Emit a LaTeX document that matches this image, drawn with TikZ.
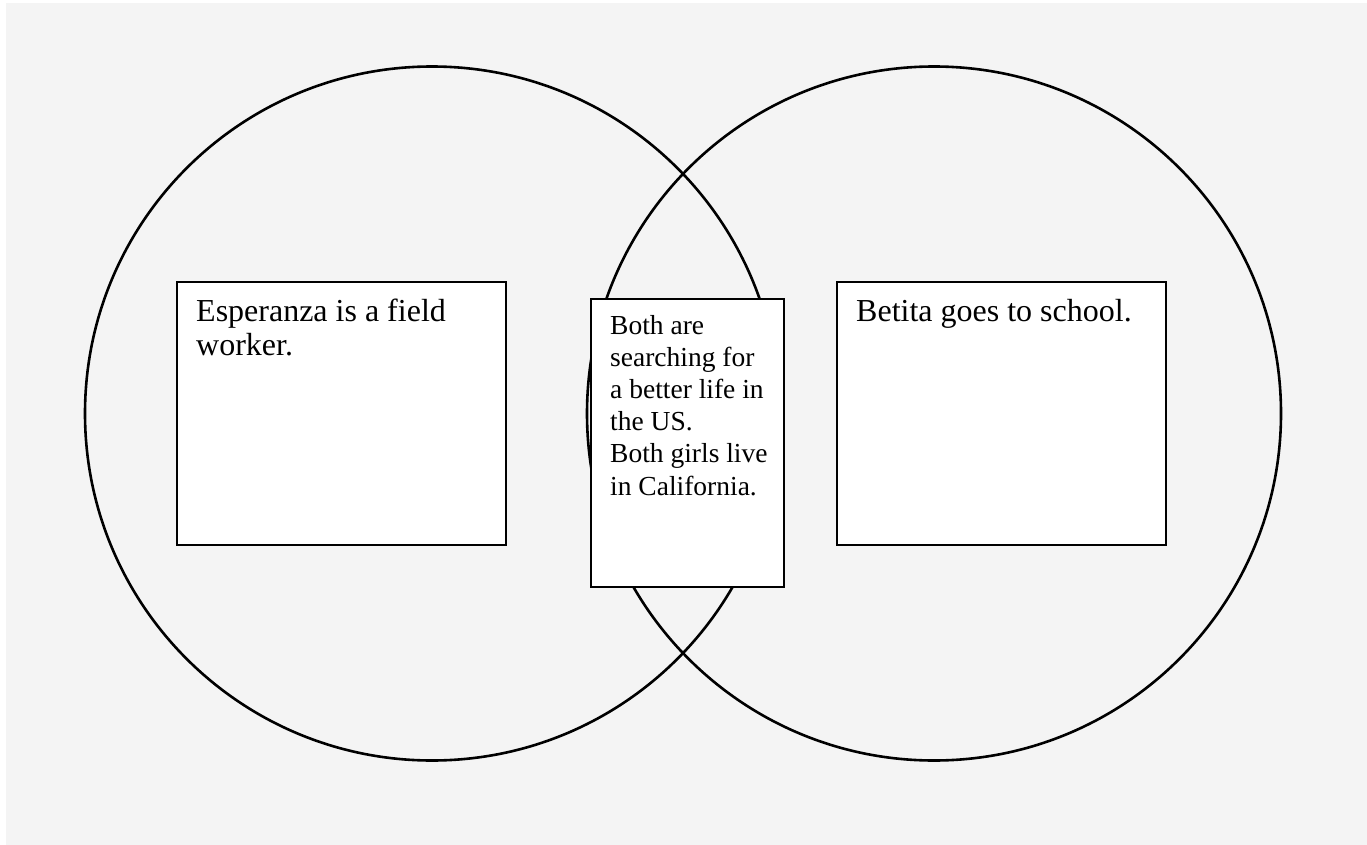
\documentclass[tikz,border=0pt]{standalone}
\usepackage{fontspec}
\setmainfont{Liberation Serif}
\definecolor{bggray}{HTML}{F4F4F4}
\tikzset{
  ring/.style={circle, draw=black, line width=2.6pt, minimum size=694pt, inner sep=0pt},
  card/.style={rectangle, draw=black, line width=1.8pt, fill=white, inner sep=0pt},
  bigtxt/.style={anchor=base west, inner sep=0pt, font=\fontsize{32}{34.5}\selectfont},
  smalltxt/.style={anchor=base west, inner sep=0pt, font=\fontsize{27.5}{32.2}\selectfont}
}
\begin{document}
\begin{tikzpicture}[x=1pt, y=-1pt]
\useasboundingbox (0,0) rectangle (1367,845);
\fill[white] (0,0) rectangle (1367,845);
\fill[bggray] (6,3) rectangle (1367,845);
\node[ring] (L) at (432,413.5) {};
\node[ring] (R) at (934,413.5) {};
\node[card, minimum width=329pt, minimum height=263pt] (LB) at (341.5,413.5) {};
\node[card, minimum width=193pt, minimum height=288pt] (MB) at (687.5,443) {};
\node[card, minimum width=329pt, minimum height=263pt] (RB) at (1001.5,413.5) {};
\node[bigtxt] (LT) at (196,321) {\vtop{\hbox{Esperanza is a field}\hbox{worker.}}};
\node[bigtxt] (RT) at (856,321) {Betita goes to school.};
\node[smalltxt] (MT) at (610,334) {\vtop{\hbox{Both are}\hbox{searching for}\hbox{a better life in}\hbox{the US.}\hbox{Both girls live}\hbox{in California.}}};
\end{tikzpicture}
\end{document}
